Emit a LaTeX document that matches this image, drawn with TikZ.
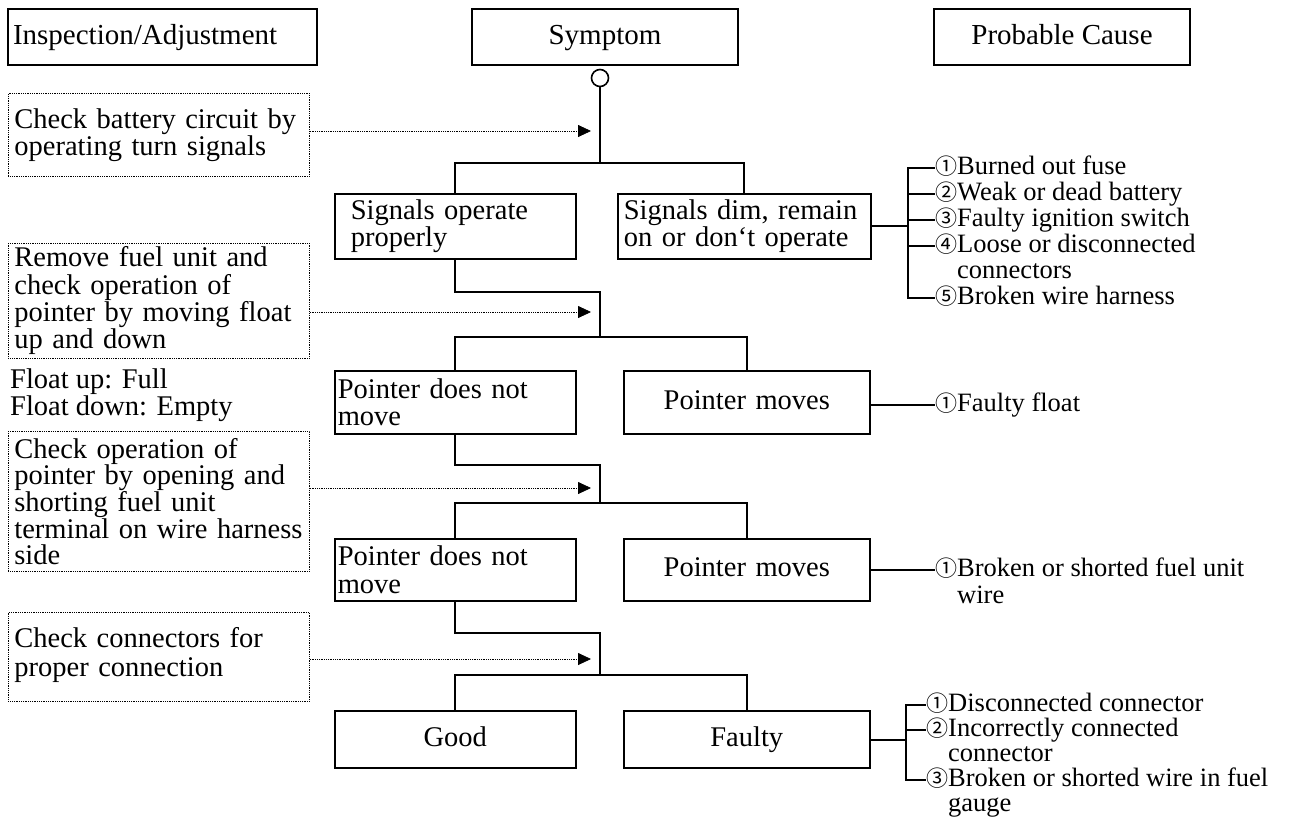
\documentclass[tikz,border=0pt]{standalone}
\usepackage{fontspec}
\setmainfont{Liberation Serif}
\newfontfamily\cjkf{Noto Sans CJK JP}
\newcommand\cn[1]{{\cjkf\fontsize{22}{22}\selectfont #1}}
\usetikzlibrary{arrows.meta,calc}
\begin{document}
\begin{tikzpicture}[x=1pt,y=-1pt,
  every node/.style={font=\fontsize{28.5}{27.3}\selectfont},
  hbox/.style={draw,line width=1.6pt,minimum height=56pt,inner sep=0pt,font=\fontsize{29}{29}\selectfont,text height=20pt,text depth=6pt},
  sbox/.style={draw,line width=1.6pt,inner ysep=0pt,align=left,anchor=north west},
  one/.style={text height=20pt,text depth=6pt},
  dbox/.style={draw,densely dotted,line width=0.8pt,inner xsep=6pt,inner ysep=0pt,align=left,anchor=north west},
  conn/.style={line width=1.8pt},
  darr/.style={densely dotted,line width=0.8pt,-{Triangle[length=13pt,width=12pt]}},
  cause/.style={anchor=west,inner sep=0pt,font=\fontsize{26.5}{26.5}\selectfont,text height=17pt,text depth=4pt},
]
\useasboundingbox (0,0) rectangle (1297,822);

% headers
\node[hbox,minimum width=309pt,text width=299pt,align=left,inner xsep=5pt] (h1) at (162.5,37) {Inspection/Adjustment};
\node[hbox,minimum width=266pt] (h2) at (605,37) {Symptom};
\node[hbox,minimum width=256pt] (h3) at (1062,37) {Probable Cause};
\node[draw,circle,line width=1.6pt,minimum size=17pt,inner sep=0pt] (c0) at (600,78) {};

% inspection boxes
\node[dbox,minimum width=301pt,minimum height=83pt,text width=289pt] (d1) at (8,93) {\mbox{Check battery circuit by}\\\mbox{operating turn signals}};
\node[dbox,minimum width=301pt,minimum height=115pt,text width=289pt] (d2) at (8,243) {\mbox{Remove fuel unit and}\\\mbox{check operation of}\\\mbox{pointer by moving float}\\\mbox{up and down}};
\node[anchor=north west,align=left,inner sep=0pt,font=\fontsize{28.5}{25.5}\selectfont] (fl) at (10,369) {Float up: Full\\Float down: Empty};
\node[dbox,minimum width=301pt,minimum height=140pt,text width=289pt,font=\fontsize{28.5}{26.2}\selectfont] (d3) at (8,431) {\mbox{Check operation of}\\\mbox{pointer by opening and}\\\mbox{shorting fuel unit}\\\mbox{terminal on wire harness}\\\mbox{side}};
\node[dbox,minimum width=301pt,minimum height=89pt,text width=289pt,font=\fontsize{28.5}{29}\selectfont] (d4) at (8,612) {\mbox{Check connectors for}\\\mbox{proper connection}\\[-20pt]\mbox{}};

% symptom boxes
\node[sbox,minimum width=241pt,minimum height=65pt,text width=209pt,inner xsep=16pt] (a1) at (334,193) {Signals operate\\properly};
\node[sbox,minimum width=253pt,minimum height=65pt,text width=241pt,inner xsep=6pt] (b1) at (617,193) {Signals dim, remain\\on or don‘t operate};
\node[sbox,minimum width=241pt,minimum height=63pt,text width=235pt,inner xsep=3pt] (a2) at (334,370) {Pointer does not\\move};
\node[sbox,minimum width=246pt,minimum height=63pt,text width=240pt,inner xsep=3pt,align=center,one] (b2) at (623,370) {Pointer moves};
\node[sbox,minimum width=241pt,minimum height=62pt,text width=235pt,inner xsep=3pt] (a3) at (334,538) {Pointer does not\\move};
\node[sbox,minimum width=246pt,minimum height=62pt,text width=240pt,inner xsep=3pt,align=center,one] (b3) at (623,538) {Pointer moves};
\node[sbox,minimum width=241pt,minimum height=57pt,text width=235pt,inner xsep=3pt,align=center,one] (a4) at (334,710) {Good};
\node[sbox,minimum width=246pt,minimum height=57pt,text width=240pt,inner xsep=3pt,align=center,one] (b4) at (623,710) {Faulty};

% junction coordinates
\coordinate (j1) at (600,163);
\coordinate (k1) at (600,292);
\coordinate (j2) at (600,337);
\coordinate (k2) at (600,465);
\coordinate (j3) at (600,503);
\coordinate (k3) at (600,633);
\coordinate (j4) at (600,675);
\coordinate (t1) at (591,131);
\coordinate (t2) at (591,312);
\coordinate (t3) at (591,488);
\coordinate (t4) at (591,659);

% tree connectors
\draw[conn] (c0.south) -- (j1);
\draw[conn] (a1.north) |- (j1) -| (b1.north);
\draw[conn] (a1.south) |- (k1) -- (j2);
\draw[conn] (a2.north) |- (j2) -| (b2.north);
\draw[conn] (a2.south) |- (k2) -- (j3);
\draw[conn] (a3.north) |- (j3) -| (b3.north);
\draw[conn] (a3.south) |- (k3) -- (j4);
\draw[conn] (a4.north) |- (j4) -| (b4.north);

% dotted arrows
\draw[darr] (d1.east |- t1) -- (t1);
\draw[darr] (d2.east |- t2) -- (t2);
\draw[darr] (d3.east |- t3) -- (t3);
\draw[darr] (d4.east |- t4) -- (t4);

% causes row 1
\node[cause] (c11) at (935,168) {\cn{①}Burned out fuse};
\node[cause] (c12) at (935,194) {\cn{②}Weak or dead battery};
\node[cause] (c13) at (935,220) {\cn{③}Faulty ignition switch};
\node[cause] (c14) at (935,246) {\cn{④}Loose or disconnected};
\node[cause] (c14b) at (935,272) {\hphantom{\cn{④}}connectors};
\node[cause] (c15) at (935,298) {\cn{⑤}Broken wire harness};
\coordinate (v1) at (908,226);
\draw[conn] (b1.east |- v1) -- (v1);
\draw[conn] (c11.west) -| (v1) |- (c15.west);
\draw[conn] (c12.west) -- (c12.west -| v1);
\draw[conn] (c13.west) -- (c13.west -| v1);
\draw[conn] (c14.west) -- (c14.west -| v1);

% causes row 2, 3
\node[cause] (c21) at (935,405) {\cn{①}Faulty float};
\draw[conn] (b2.east |- c21.west) -- (c21.west);
\node[cause] (c31) at (935,570) {\cn{①}Broken or shorted fuel unit};
\node[cause] (c31b) at (935,597) {\hphantom{\cn{①}}wire};
\draw[conn] (b3.east |- c31.west) -- (c31.west);

% causes row 4
\node[cause] (c41) at (926,705) {\cn{①}Disconnected connector};
\node[cause] (c42) at (926,730) {\cn{②}Incorrectly connected};
\node[cause] (c42b) at (926,755) {\hphantom{\cn{②}}connector};
\node[cause] (c43) at (926,780) {\cn{③}Broken or shorted wire in fuel};
\node[cause] (c43b) at (926,805) {\hphantom{\cn{③}}gauge};
\coordinate (v4) at (906,740);
\draw[conn] (b4.east |- v4) -- (v4);
\draw[conn] (c41.west) -| (v4) |- (c43.west);
\draw[conn] (c42.west) -- (c42.west -| v4);
\end{tikzpicture}
\end{document}
